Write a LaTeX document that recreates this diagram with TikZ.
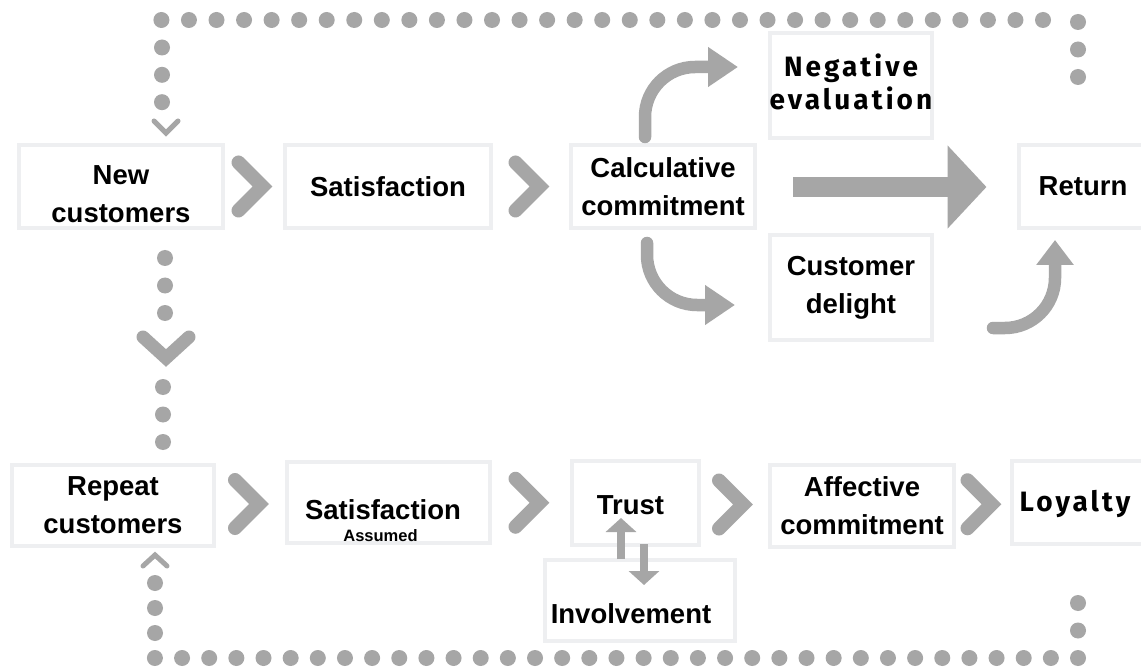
\documentclass[tikz,border=0pt]{standalone}
\usepackage{fontspec}
\setmainfont{Liberation Sans}
\newfontfamily\widefont[LetterSpace=11]{Fira Sans}
\usepackage{tikz}
\usetikzlibrary{arrows.meta, calc}
\definecolor{mid}{RGB}{166, 166, 166}
\definecolor{light}{RGB}{238, 239, 241}
\newcommand*{\h}{83}

\begin{document}
\begin{tikzpicture}[
   x=1pt, y=-1pt,
   box/.style={rectangle, draw=light, fill=white, line width=4, text=black,
               inner sep=0, align=center, minimum height=\h,
               font=\bfseries\fontsize{27.5}{38}\selectfont},
   txt/.style={inner sep=0, align=center, text=black,
               font=\bfseries\fontsize{27.5}{38}\selectfont},
   wide/.style={font=\widefont\bfseries\fontsize{28}{33}\selectfont},
   chev/.style={draw=mid, line width=14, line cap=round, line join=miter},
   thinchev/.style={draw=mid, line width=5, line cap=round, line join=miter},
   curvearrow/.style={draw=mid, line width=12.5, line cap=round, rounded corners=50,
                      -{Triangle[length=30pt, width=38pt]}},
   dotline/.style={draw=mid, line width=16, line cap=round,
                   dash pattern=on 0pt off #1}
  ]

  \fill[white] (0, 0) rectangle (1141, 671);
  \useasboundingbox (0, 0) rectangle (1141, 671);

  % first visit
  \node (new) at (121, 186.5) [box, minimum width=204] {};
  \node at ($(new) + (0, 8)$) [txt] {New\\customers};
  \node (sat1) at (388, 186.5) [box, minimum width=206] {Satisfaction};
  \node (calc) at (663, 186.5) [box, minimum width=184] {Calculative\\commitment};
  \node (neg) at (851, 85.5) [box, minimum width=162, minimum height=105] {};
  \node at ($(neg) + (0, -4)$) [txt, wide] {Negative\\evaluation};
  \node (delight) at (851, 287.5) [box, minimum width=162, minimum height=105] {Customer\\delight};
  \node (ret) at (1083, 186.5) [box, minimum width=129] {Return};

  % repeat visit
  \node (rep) at (113, 505.5) [box, minimum width=202, minimum height=81] {Repeat\\customers};
  \node (sat2) at (388.5, 502.5) [box, minimum width=203, minimum height=81] {};
  \node at ($(sat2) + (-5.5, 7.5)$) [txt] {Satisfaction};
  \node at ($(sat2) + (-8, 33.5)$) [txt, font=\bfseries\fontsize{16.5}{18}\selectfont] {Assumed};
  \node (trust) at (635.5, 503) [box, minimum width=127, minimum height=84] {};
  \node at ($(trust) + (-5, 2)$) [txt] {Trust};
  \node (inv) at (640, 600.5) [box, minimum width=190, minimum height=81] {};
  \node at ($(inv) + (-9, 13.5)$) [txt] {Involvement};
  \node (aff) at (862, 506) [box, minimum width=184, minimum height=82] {Affective\\commitment};
  \node (loy) at (1080, 502.5) [box, minimum width=136] {};
  \node at ($(loy) + (-5, 1)$) [txt, wide] {Loyalty};

  \foreach \B/\E in {new/sat1, sat1/calc, rep/sat2, sat2/trust, trust/aff, aff/loy} {
    \draw[chev] ($(\B.east)!0.5!(\E.west)$) ++(-15.5, -24) -- ++(24, 24) -- ++(-24, 24);
  }

  % branches out of the calculative commitment
  \draw[curvearrow] ([shift={(-18, -6)}]calc.north) |- ([shift={(-30, -18.5)}]neg.west);
  \draw[curvearrow] ([shift={(-16, 13)}]calc.south) |- ([shift={(-33, 17.5)}]delight.west);
  \draw[curvearrow, -{Triangle[length=25pt, width=36pt]}]
    ([shift={(59, 40.5)}]delight.east) -| ([shift={(-28, 10)}]ret.south);
  \draw[mid, line width=20, -{Triangle[length=39pt, width=81pt]}]
    ([shift={(36, 0.5)}]calc.east) -- ([shift={(-30, 0.5)}]ret.west);

  % trust <-> involvement
  \draw[mid, line width=8, -{Triangle[length=14pt, width=30pt]}]
    ([shift={(-19, 1)}]inv.north) -- ([shift={(-14.5, -29)}]trust.south);
  \draw[mid, line width=8, -{Triangle[length=14pt, width=30pt]}]
    ([shift={(8.5, -3)}]trust.south) -- ([shift={(4, 27)}]inv.north);

  % loop back from return
  \draw[dotline=27.5] (1078, 77) -- ++(0, -55.5);
  \draw[dotline=27.55] (1043, 20) -- ++(-882, 0);
  \draw[dotline=27.33] (162, 47.5) -- ++(0, 55);
  \draw[thinchev] (154, 121) -- (166, 133) -- (178, 121);

  % new customers become repeat customers
  \draw[dotline=27.5] (165, 258) -- ++(0, 55.5);
  \draw[chev, line width=13] (143, 337) -- (166, 358) -- (189, 337);
  \draw[dotline=27.5] (163, 387) -- ++(0, 55.5);

  % loop back from loyalty
  \draw[dotline=27.5] (1078, 603) -- ++(0, 28);
  \draw[dotline=27.15] (1078, 658) -- ++(-923.5, 0);
  \draw[dotline=25] (155, 633) -- ++(0, -50.5);
  \draw[thinchev] (143, 566) -- (155, 555) -- (167, 566);

\end{tikzpicture}
\end{document}
